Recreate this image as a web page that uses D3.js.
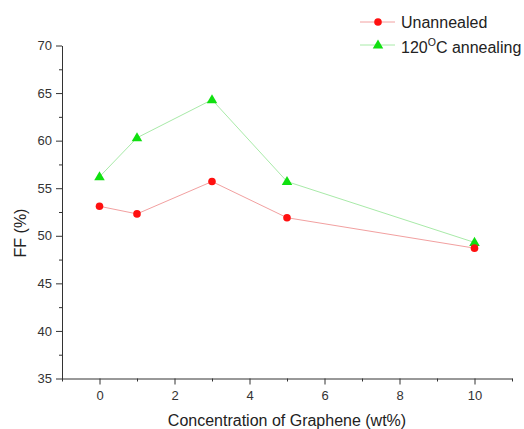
<!DOCTYPE html>
<html>
<head>
<meta charset="utf-8">
<script src="https://cdn.jsdelivr.net/npm/d3@7"></script>
<style>
  html, body { margin: 0; padding: 0; background: #fff; }
  svg { display: block; font-family: "Liberation Sans", Arial, sans-serif; }
</style>
</head>
<body>
<div id="chart"></div>
<script>
const concentration = [0, 1, 3, 5, 10];
const unannealed = [53.1, 52.3, 55.7, 51.9, 48.7];
const annealed120 = [56.2, 60.3, 64.3, 55.7, 49.3];
const xTicks = [0, 2, 4, 6, 8, 10];
const yTicks = [35, 40, 45, 50, 55, 60, 65, 70];

const W = 524, H = 429;
const svg = d3.select("#chart").append("svg").attr("width", W).attr("height", H);

const x = d3.scaleLinear().domain([-1, 11]).range([62, 512]);
const y = d3.scaleLinear().domain([35, 70]).range([378.5, 45.5]);

const axisColor = "#333";

// X axis
svg.append("g").attr("transform", `translate(0,${y(35)})`)
  .call(d3.axisBottom(x).tickValues(xTicks).tickSize(6).tickSizeOuter(0).tickPadding(6).tickFormat(d3.format("d")));
const xMinor = svg.append("g").attr("transform", `translate(0,${y(35)})`)
  .call(d3.axisBottom(x).tickValues([-1, 1, 3, 5, 7, 9, 11]).tickSize(3).tickSizeOuter(0).tickFormat(""));
xMinor.select(".domain").remove();

// Y axis
svg.append("g").attr("transform", `translate(${x(-1)},0)`)
  .call(d3.axisLeft(y).tickValues(yTicks).tickSize(6).tickSizeOuter(0).tickPadding(4).tickFormat(d3.format("d")));
const yMinor = svg.append("g").attr("transform", `translate(${x(-1)},0)`)
  .call(d3.axisLeft(y).tickValues([37.5, 42.5, 47.5, 52.5, 57.5, 62.5, 67.5]).tickSize(3).tickSizeOuter(0).tickFormat(""));
yMinor.select(".domain").remove();

svg.selectAll(".domain, .tick line").attr("stroke", axisColor).attr("stroke-width", 1);
svg.selectAll(".tick text").attr("fill", axisColor).style("font-size", "13px")
  .style("font-family", '"Liberation Sans", Arial, sans-serif');

// Axis titles
svg.append("text").attr("x", (x(-1) + x(11)) / 2).attr("y", 426)
  .attr("text-anchor", "middle").attr("fill", "#222").style("font-size", "16px")
  .text("Concentration of Graphene (wt%)");
svg.append("text").attr("transform", `translate(26,233) rotate(-90)`)
  .attr("text-anchor", "middle").attr("fill", "#222").style("font-size", "16px")
  .text("FF (%)");

const redLine = "#f2a0a0", redMark = "#ff1010";
const greenLine = "#a8eaa8", greenMark = "#10e010";

const line = d3.line().x(d => x(d[0])).y(d => y(d[1]));
const dataU = concentration.map((c, i) => [c, unannealed[i]]);
const dataA = concentration.map((c, i) => [c, annealed120[i]]);

svg.append("path").datum(dataU).attr("d", line).attr("fill", "none").attr("stroke", redLine).attr("stroke-width", 1);
svg.append("path").datum(dataA).attr("d", line).attr("fill", "none").attr("stroke", greenLine).attr("stroke-width", 1);

const tri = d3.symbol().type(d3.symbolTriangle).size(48);

svg.append("g").selectAll("path").data(dataA).join("path")
  .attr("d", tri).attr("transform", d => `translate(${x(d[0])},${y(d[1]) + 0.5})`).attr("fill", greenMark);
svg.append("g").selectAll("circle").data(dataU).join("circle")
  .attr("cx", d => x(d[0])).attr("cy", d => y(d[1])).attr("r", 3.8).attr("fill", redMark);

// Legend
const lg = svg.append("g");
lg.append("line").attr("x1", 360).attr("x2", 395).attr("y1", 22).attr("y2", 22).attr("stroke", redLine);
lg.append("circle").attr("cx", 378).attr("cy", 22).attr("r", 3.8).attr("fill", redMark);
lg.append("text").attr("x", 401).attr("y", 28).attr("fill", "#222").style("font-size", "16px").text("Unannealed");

lg.append("line").attr("x1", 360).attr("x2", 395).attr("y1", 45).attr("y2", 45).attr("stroke", greenLine);
lg.append("path").attr("d", tri).attr("transform", "translate(378,45.5)").attr("fill", greenMark);
const t2 = lg.append("text").attr("x", 401).attr("y", 53).attr("fill", "#222").style("font-size", "16px");
t2.append("tspan").text("120");
t2.append("tspan").attr("dy", -7).style("font-size", "10.5px").text("O");
t2.append("tspan").attr("dy", 7).text("C annealing");
</script>
</body>
</html>
